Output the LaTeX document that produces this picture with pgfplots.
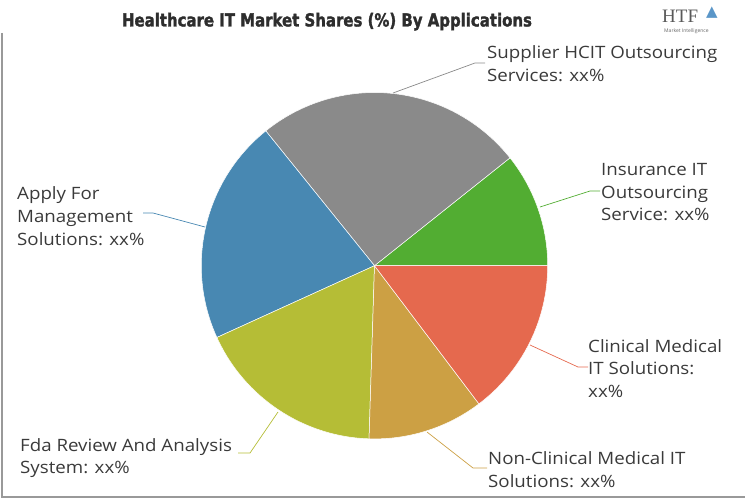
\documentclass[border=0pt]{standalone}
\usepackage{pgfplots}
\pgfplotsset{compat=1.18}
\usepackage{pgfplotstable}
\usepackage{fontspec}
\setmainfont[FakeStretch=1.1]{Open Sans}
\newfontfamily\titlefont[FakeStretch=0.83, FakeBold=1.6]{DejaVu Sans}
\newfontfamily\logofont{Liberation Serif}
\newfontfamily\symfont{DejaVu Sans}
\newfontfamily\tinyfont{Open Sans}
\newcommand\lbl{\fontsize{17}{22.5}\selectfont}

\definecolor{c0}{RGB}{82,173,50}
\definecolor{c1}{RGB}{138,138,138}
\definecolor{c2}{RGB}{72,136,178}
\definecolor{c3}{RGB}{181,189,54}
\definecolor{c4}{RGB}{204,160,68}
\definecolor{c5}{RGB}{229,105,78}
\definecolor{txt}{RGB}{58,58,58}
\definecolor{titlec}{RGB}{45,45,45}
\definecolor{logoblue}{RGB}{90,150,200}

\pgfplotstableread{
label value
Insurance 10.7
Supplier 25.1
Apply 21.0
Fda 17.7
NonClinical 10.8
Clinical 14.7
}\piedata

\begin{document}
\begin{tikzpicture}
\begin{axis}[scale only axis, width=750pt, height=500pt,
  xmin=0, xmax=750, ymin=0, ymax=500, y dir=reverse,
  hide axis, clip=false]
\pgfplotstablegetrowsof{\piedata}
\pgfmathtruncatemacro\N{\pgfplotsretval-1}
\gdef\cum{0}
\pgfplotsforeachungrouped \i in {0,...,\N}{%
  \pgfplotstablegetelem{\i}{value}\of\piedata
  \pgfmathsetmacro\sa{\cum*3.6}%
  \pgfmathsetmacro\newcum{\cum+\pgfplotsretval}%
  \pgfmathsetmacro\ea{\newcum*3.6}%
  \edef\temp{\noexpand\fill[fill=c\i, draw=white, line width=0.5pt] (axis cs:374.5,265.7) -- ++(\sa:173.2pt) arc[start angle=\sa, end angle=\ea, radius=173.2pt] -- cycle;}%
  \temp
  \global\let\cum\newcum
}
% leader lines
\addplot[c0, line width=0.7pt] coordinates {(540,207) (590,191) (600,191)};
\addplot[c1, line width=0.7pt] coordinates {(393,93) (475,63) (485,63)};
\addplot[c2, line width=0.7pt] coordinates {(205,227) (153,213) (143,213)};
\addplot[c3, line width=0.7pt] coordinates {(278,412) (250,453) (238,453)};
\addplot[c4, line width=0.7pt] coordinates {(427,432) (473,468) (487,468)};
\addplot[c5, line width=0.7pt] coordinates {(530,345) (578,367) (588,367)};
% labels
\begin{scope}[every node/.style={inner sep=0pt, text=txt, font=\lbl}]
\node[anchor=base west] at (axis cs:487,59) {Supplier HCIT Outsourcing};
\node[anchor=base west] at (axis cs:487,81.5) {Services: xx\%};
\node[anchor=base west] at (axis cs:601,175.5) {Insurance IT};
\node[anchor=base west] at (axis cs:601,198) {Outsourcing};
\node[anchor=base west] at (axis cs:601,220.5) {Service: xx\%};
\node[anchor=base west] at (axis cs:588,352) {Clinical Medical};
\node[anchor=base west] at (axis cs:588,374.5) {IT Solutions:};
\node[anchor=base west] at (axis cs:588,397) {xx\%};
\node[anchor=base west] at (axis cs:488,464.5) {Non-Clinical Medical IT};
\node[anchor=base west] at (axis cs:488,487) {Solutions: xx\%};
\node[anchor=base west] at (axis cs:20,451) {Fda Review And Analysis};
\node[anchor=base west] at (axis cs:20,473.5) {System: xx\%};
\node[anchor=base west] at (axis cs:17,200) {Apply For};
\node[anchor=base west] at (axis cs:17,222.5) {Management};
\node[anchor=base west] at (axis cs:17,245) {Solutions: xx\%};
\end{scope}
% title
\node[anchor=base, inner sep=0pt, text=titlec, font=\titlefont\bfseries\fontsize{18}{18}\selectfont] at (axis cs:327,26.5) {Healthcare IT Market Shares (\%) By Applications};
% logo
\node[anchor=base west, inner sep=0pt, text=black!65, font=\logofont\fontsize{19}{19}\selectfont] at (axis cs:662,23) {HTF};
\node[anchor=center, inner sep=0pt, text=logoblue, font=\symfont\fontsize{15}{15}\selectfont] at (axis cs:712,13) {▲};
\node[anchor=base west, inner sep=0pt, text=black!60, font=\tinyfont\fontsize{5}{5}\selectfont] at (axis cs:664,33) {Market Intelligence};
% frame
\draw[black!40, line width=1.2pt] (axis cs:2,33) -- (axis cs:2,497) -- (axis cs:745,497);
\end{axis}
\pgfresetboundingbox
\path (0,0) rectangle (750pt,500pt);
\end{tikzpicture}
\end{document}
